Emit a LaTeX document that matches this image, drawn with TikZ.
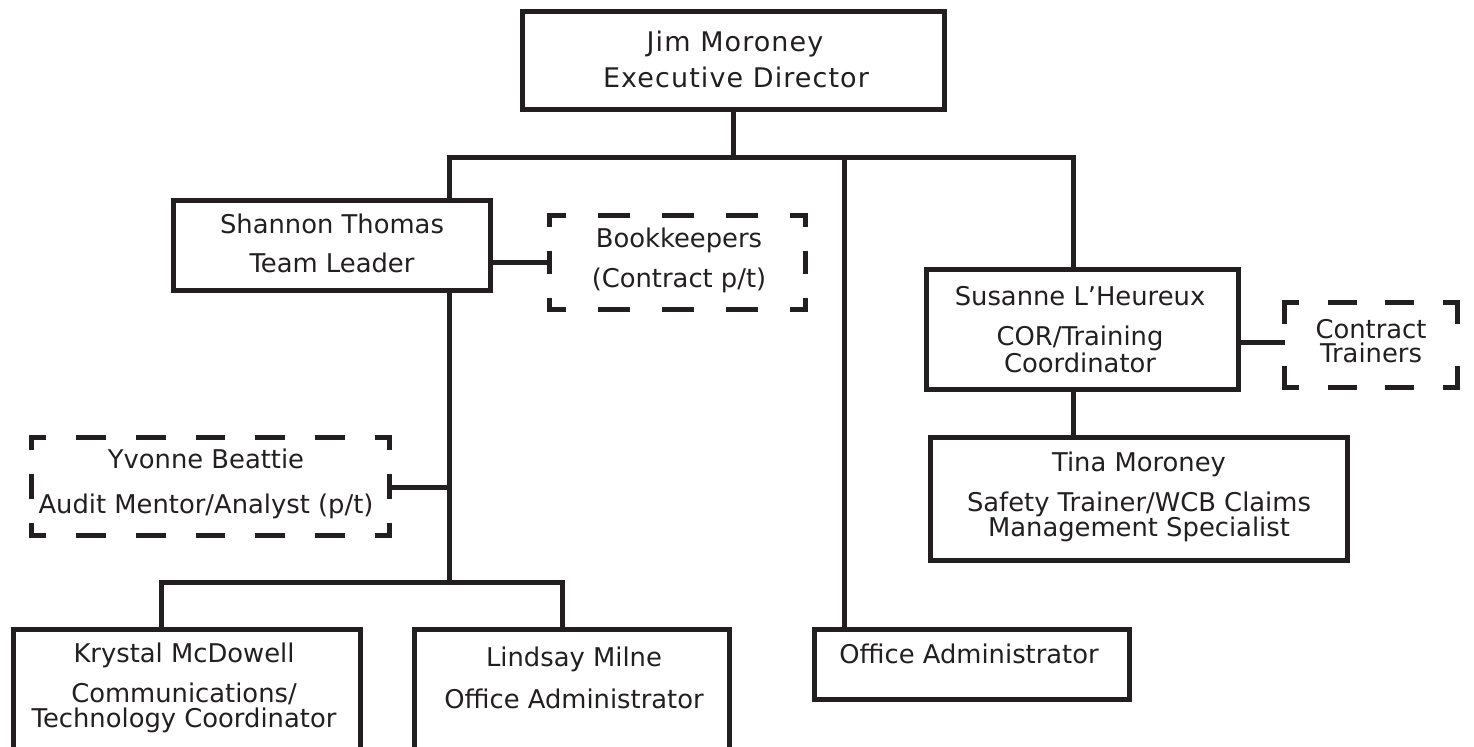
\documentclass[tikz,border=0pt]{standalone}
\usepackage{fontspec}
\setmainfont{DejaVu Sans}
\newfontfamily\topfont[LetterSpace=4]{DejaVu Sans}
\usetikzlibrary{calc}
\definecolor{ink}{HTML}{231F20}
\tikzset{
  solidbox/.style={draw=ink, line width=2.5pt, rectangle, inner sep=0pt, outer sep=0pt},
  dashnode/.style={rectangle, inner sep=0pt, outer sep=0pt},
  dline/.style={draw=ink, line width=2.5pt, line cap=rect},
  conn/.style={draw=ink, line width=2.5pt},
  txt/.style={text=ink, inner sep=0pt, anchor=base, font=\fontsize{12.9}{15}\selectfont},
  bigtxt/.style={text=ink, inner sep=0pt, anchor=base, font=\topfont\fontsize{13.5}{16}\selectfont},
}
\begin{document}
\begin{tikzpicture}[x=0.5pt,y=-0.5pt]
\clip (0,0) rectangle (1474,747);
\fill[white] (0,0) rectangle (1474,747);

% solid boxes
\node[solidbox, minimum width=211pt, minimum height=49pt] (top) at (733,61) {};
\node[solidbox, minimum width=158.5pt, minimum height=45pt] (shannon) at (332,245.5) {};
\node[solidbox, minimum width=156pt, minimum height=60pt] (susanne) at (1082.5,329.5) {};
\node[solidbox, minimum width=208.5pt, minimum height=61.5pt] (tina) at (1139,499) {};
\node[solidbox, minimum width=173.5pt, minimum height=85.25pt] (krystal) at (187,714.75) {};
\node[solidbox, minimum width=157.5pt, minimum height=85.25pt] (lindsay) at (572,714.75) {};
\node[solidbox, minimum width=157.5pt, minimum height=35pt] (office) at (972,664.5) {};

% dashed boxes
\node[dashnode, minimum width=128pt, minimum height=47pt] (bk) at (677.5,262.5) {};
\node[dashnode, minimum width=179pt, minimum height=49pt] (yv) at (210.5,486.5) {};
\node[dashnode, minimum width=86.5pt, minimum height=42.5pt] (ct) at (1371,345) {};

\draw[dline, dash pattern=on 13.5pt off 18.5pt, dash phase=6.75pt] (bk.north west) -- (bk.north east);
\draw[dline, dash pattern=on 13.5pt off 18.5pt, dash phase=6.75pt] (bk.south west) -- (bk.south east);
\draw[dline, dash pattern=on 9.25pt off 14.25pt, dash phase=4.625pt] (bk.north west) -- (bk.south west);
\draw[dline, dash pattern=on 9.25pt off 14.25pt, dash phase=4.625pt] (bk.north east) -- (bk.south east);

\draw[dline, dash pattern=on 12.417pt off 17.417pt, dash phase=6.208pt] (yv.north west) -- (yv.north east);
\draw[dline, dash pattern=on 12.417pt off 17.417pt, dash phase=6.208pt] (yv.south west) -- (yv.south east);
\draw[dline, dash pattern=on 9.75pt off 14.75pt, dash phase=4.875pt] (yv.north west) -- (yv.south west);
\draw[dline, dash pattern=on 9.75pt off 14.75pt, dash phase=4.875pt] (yv.north east) -- (yv.south east);

\draw[dline, dash pattern=on 11.917pt off 16.917pt, dash phase=5.958pt] (ct.north west) -- (ct.north east);
\draw[dline, dash pattern=on 11.917pt off 16.917pt, dash phase=5.958pt] (ct.south west) -- (ct.south east);
\draw[dline, dash pattern=on 18.75pt off 23.75pt, dash phase=9.375pt] (ct.north west) -- (ct.south west);
\draw[dline, dash pattern=on 18.75pt off 23.75pt, dash phase=9.375pt] (ct.north east) -- (ct.south east);

% connector helper coordinates
\coordinate (busL) at (449,158);
\coordinate (busR) at (1073,158);
\coordinate (busO) at (844,158);
\coordinate (bus2L) at (161,583);
\coordinate (bus2R) at (562,583);
\coordinate (bus2M) at (449,583);
\coordinate (y263) at (0,263);
\coordinate (y488) at (0,488);
\coordinate (y343) at (0,343);

% connectors
\draw[conn] (top.south) -- (top.south |- busL);
\draw[conn] (busL |- shannon.north) -- (busL) -- (busR) -- (busR |- susanne.north);
\draw[conn] (busO) -- (busO |- office.north);
\draw[conn] (shannon.east |- y263) -- (bk.west |- y263);
\draw[conn] (busL |- shannon.south) -- (bus2M);
\draw[conn] (yv.east |- y488) -- (busL |- y488);
\draw[conn] (bus2L |- krystal.north) -- (bus2L) -- (bus2R) -- (bus2R |- lindsay.north);
\draw[conn] (susanne.east |- y343) -- (ct.west |- y343);
\draw[conn] (busR |- susanne.south) -- (busR |- tina.north);

% texts
\node[bigtxt] (t1) at (735,52) {Jim Moroney};
\node[bigtxt] (t2) at (736,88) {Executive Director};
\node[txt] (t3) at (332,234) {Shannon Thomas};
\node[txt] (t4) at (332,273) {Team Leader};
\node[txt] (t5) at (679,248) {Bookkeepers};
\node[txt] (t6) at (679,288) {(Contract p/t)};
\node[txt] (t7) at (1080,306) {Susanne L’Heureux};
\node[txt] (t8) at (1080,346) {COR/Training};
\node[txt] (t9) at (1080,373) {Coordinator};
\node[txt] (t10) at (1371,339) {Contract};
\node[txt] (t11) at (1371,363) {Trainers};
\node[txt] (t12) at (1139,472) {Tina Moroney};
\node[txt] (t13) at (1139,512) {Safety Trainer/WCB Claims};
\node[txt] (t14) at (1139,537) {Management Specialist};
\node[txt] (t15) at (206,469) {Yvonne Beattie};
\node[txt] (t16) at (206,514) {Audit Mentor/Analyst (p/t)};
\node[txt] (t17) at (184,663) {Krystal McDowell};
\node[txt] (t18) at (184,703) {Communications/};
\node[txt] (t19) at (184,728) {Technology Coordinator};
\node[txt] (t20) at (574,667) {Lindsay Milne};
\node[txt] (t21) at (574,709) {Office Administrator};
\node[txt] (t22) at (969,664) {Office Administrator};
\end{tikzpicture}
\end{document}
